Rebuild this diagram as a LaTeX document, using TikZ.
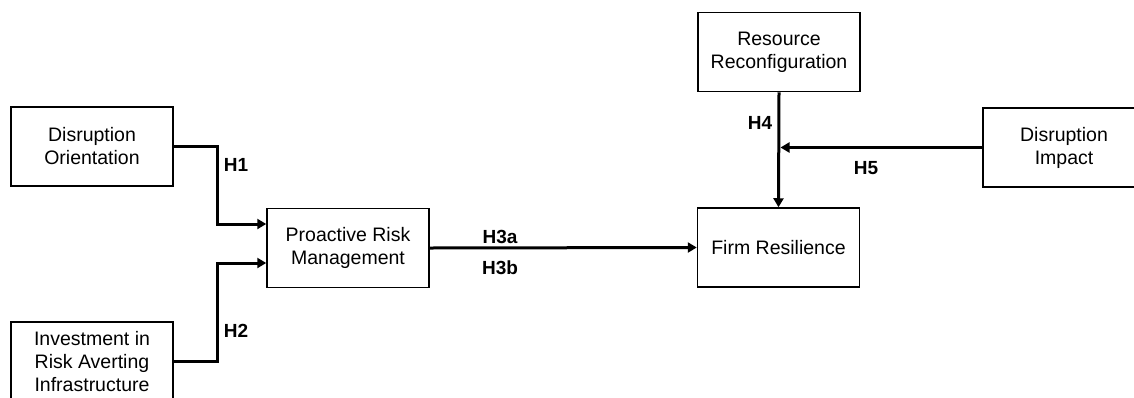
\documentclass[tikz,border=0pt]{standalone}
\usepackage{fontspec}
\setmainfont{Liberation Sans}
\usetikzlibrary{positioning,arrows.meta}

\begin{document}
\begin{tikzpicture}[x=1pt,y=-1pt,
	every node/.style={font=\fontsize{19.5}{23}\selectfont},
	var/.style={draw,line width=1.5pt,minimum width=162pt,minimum height=79pt,align=center,inner sep=0pt},
	hyp/.style={font=\fontsize{19}{23}\selectfont\bfseries},
	link/.style={line width=3pt,-{Triangle[length=9pt,width=10pt]}}]
\useasboundingbox (0,0) rectangle (1134,397);
\clip (0,0) rectangle (1134,397);

\node[var] (DO) at (92,146.5) {Disruption\\Orientation};
\node[var] (IRA) at (92,361.5) {Investment in\\Risk Averting\\Infrastructure};
\node[var] (PRM) at (348,248) {Proactive Risk\\Management};
\node[var] (FR) at (778.5,247.5) {Firm Resilience};
\node[var] (RR) at (779,52) {Resource\\Reconfiguration};
\node[var] (DI) at (1064,147.5) {Disruption\\Impact};

\draw[link](DO.east)-|([xshift=-49pt,yshift=24pt]PRM.west)--([yshift=24pt]PRM.west);
\draw[link](IRA.east)-|([xshift=-49pt,yshift=-15pt]PRM.west)--([yshift=-15pt]PRM.west);
\draw[link](PRM.east)--(FR.west);
\draw[link](RR.south)--(FR.north);
\coordinate (m) at (RR |- DI);
\draw[link](DI.west)--([xshift=1.5pt]m);

\foreach \n/\x/\y/\t in {h1/236/165/H1,h2/236/331/H2,h3a/500/237/H3a,h3b/500/268/H3b,h4/760/123/H4,h5/866/168/H5}
	\node[hyp] (\n) at (\x,\y) {\t};

\end{tikzpicture}
\end{document}
